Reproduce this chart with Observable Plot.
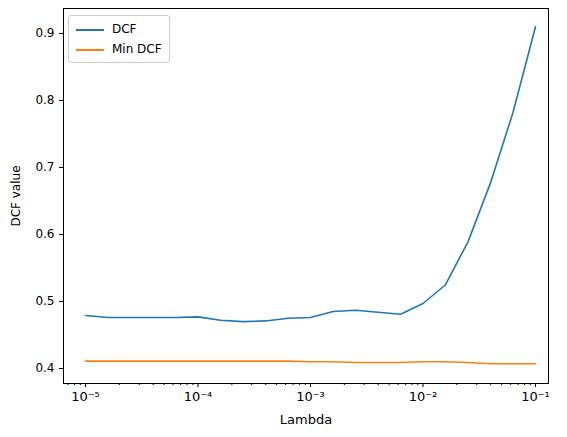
<!DOCTYPE html>
<html><head>
<script src="https://cdn.jsdelivr.net/npm/d3@7"></script>
<script src="https://cdn.jsdelivr.net/npm/@observablehq/plot@0.6"></script>
<style>body{margin:0;background:#fff;font-family:"DejaVu Sans",sans-serif}#wrap{position:relative;width:567px;height:437px}
#leg{position:absolute;left:68px;top:15px;border:1px solid #ccc;border-radius:3px;background:#fff;padding:3px 7px;font-size:12px;line-height:20px}
#leg span{display:inline-block;width:28px;height:0;border-top:2px solid;vertical-align:middle;margin-right:8px}</style>
</head><body><div id="wrap"><div id="leg"><div><span style="border-color:#1f77b4"></span>DCF</div><div><span style="border-color:#ff7f0e"></span>Min DCF</div></div></div>
<script>
const lambdas = d3.range(21).map(i => Math.pow(10, -5 + i * 0.2));
const dcf = [0.479,0.476,0.476,0.476,0.476,0.477,0.472,0.470,0.471,0.475,0.476,0.485,0.487,0.484,0.481,0.497,0.525,0.589,0.677,0.782,0.910];
const minDcf = [0.411,0.411,0.411,0.411,0.411,0.411,0.411,0.411,0.411,0.411,0.410,0.410,0.409,0.409,0.409,0.410,0.410,0.409,0.407,0.407,0.407];
const majors = [1e-5,1e-4,1e-3,1e-2,1e-1];
const majorLabels = ["10⁻⁵","10⁻⁴","10⁻³","10⁻²","10⁻¹"];
const yTicks = [0.4,0.5,0.6,0.7,0.8,0.9];
const minors = [];
for (let e=-6;e<=-1;e++) for (let k=2;k<=9;k++){const v=k*Math.pow(10,e); if(v>6.4e-6&&v<1.3e-1) minors.push(v);}
const rows = lambdas.map((x,i)=>({x,dcf:dcf[i],min:minDcf[i]}));
const chart = Plot.plot({
  width:567,height:437,marginLeft:63,marginRight:19,marginTop:8,marginBottom:54,
  style:{fontFamily:"DejaVu Sans",fontSize:"12px",color:"#000"},
  x:{type:"log",domain:[Math.pow(10,-5.1956),Math.pow(10,-0.8844)]},
  y:{domain:[0.3776,0.9373]},
  marks:[
    Plot.frame({stroke:"#000"}),
    Plot.axisX({ticks:minors,tickSize:2,tickFormat:()=>"",label:null}),
    Plot.axisX({ticks:majors,tickSize:4,tickPadding:4,tickFormat:(d)=>majorLabels[majors.indexOf(d)],label:"Lambda",labelAnchor:"center",labelArrow:"none",labelOffset:40,fontSize:13}),
    Plot.axisY({ticks:yTicks,tickSize:4,tickFormat:d=>d.toFixed(1),label:"DCF value",labelAnchor:"center",labelArrow:"none",labelOffset:52}),
    Plot.line(rows,{x:"x",y:"dcf",stroke:"#1f77b4",strokeWidth:1.6}),
    Plot.line(rows,{x:"x",y:"min",stroke:"#ff7f0e",strokeWidth:1.6})
  ]
});
document.getElementById("wrap").prepend(chart);
</script></body></html>
